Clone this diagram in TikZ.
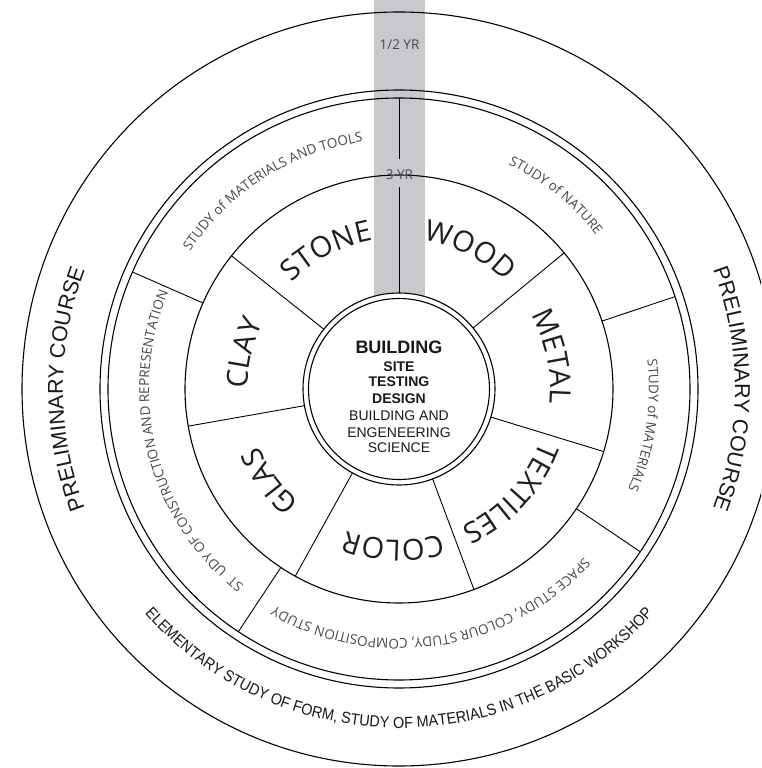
\documentclass[tikz,border=0pt]{standalone}
\usepackage{fontspec}
\setmainfont{Liberation Sans}
\newfontfamily\osans{Open Sans}
\newfontfamily\nsans[FakeStretch=0.9]{Liberation Sans}
\usetikzlibrary{decorations.text}
\definecolor{band}{RGB}{200,201,204}
\definecolor{studycol}{RGB}{72,72,72}
\definecolor{wscol}{RGB}{30,30,30}
\definecolor{ctrcol}{RGB}{25,25,25}
\tikzset{
  ring/.style={line width=1.1pt},
  spoke/.style={line width=0.9pt},
  ctext/.style={anchor=base, inner sep=0pt, text=ctrcol},
  yrtext/.style={anchor=base, inner sep=0pt, text=studycol, font=\osans\fontsize{13.5}{16}\selectfont},
}
% clockwise arc text (tops outward): centre angle, baseline radius, half span, format, text
\newcommand\cwtext[5]{\path[decorate,decoration={text along path,text align=center,text={|#4|#5}}] ({#1+#3}:#2pt) arc[start angle={#1+#3}, end angle={#1-#3}, radius=#2pt];}
% counter-clockwise arc text (tops inward)
\newcommand\ccwtext[5]{\path[decorate,decoration={text along path,text align=center,text={|#4|#5}}] ({#1-#3}:#2pt) arc[start angle={#1-#3}, end angle={#1+#3}, radius=#2pt];}
\newcommand\wsf{\color{wscol}\osans\fontsize{29}{31}\selectfont}
\newcommand\stf{\color{studycol}\osans\fontsize{13.5}{16}\selectfont}
\newcommand\prf{\color{ctrcol}\fontsize{21.5}{24}\selectfont}
\newcommand\elf{\color{ctrcol}\nsans\fontsize{16}{18}\selectfont}
\begin{document}
\begin{tikzpicture}[x=1pt,y=1pt]
\useasboundingbox (-399,-379) rectangle (362,389);
\clip (-399,-379) rectangle (362,389);
\fill[white] (-399,-379) rectangle (362,389);
% grey band
\fill[band] (-25,0) rectangle (26,389);
% rings
\draw[ring] (0,0) circle[radius=377pt];
\draw[ring] (0,0) circle[radius=299pt];
\draw[ring] (0,0) circle[radius=291pt];
\draw[ring] (0,0) circle[radius=214pt];
\draw[ring, fill=white] (0,0) circle[radius=96pt];
\draw[ring] (0,0) circle[radius=90.5pt];
% vertical divider
\draw[spoke] (0,291) -- (0,230);
\draw[spoke] (0,202) -- (0,96);
% study ring dividers
\foreach \a in {156.3,18.5,-34,236.5}
  \draw[spoke] (\a:214pt) -- (\a:291pt);
% workshop dividers
\foreach \a in {39.5,-17,-69.5,241,190,141.5}
  \draw[spoke] (\a:96pt) -- (\a:214pt);
% workshop labels
\cwtext{117.5}{151}{30}{\wsf}{STONE}
\cwtext{63}{151}{30}{\wsf}{WOOD}
\cwtext{12}{151}{30}{\wsf}{METAL}
\cwtext{-43}{151}{30}{\wsf}{TEXTILES}
\cwtext{-92}{151}{30}{\wsf}{COLOR}
\cwtext{215.5}{151}{30}{\wsf}{GLAS}
\cwtext{167}{151}{30}{\wsf}{CLAY}
% study labels
\cwtext{122.5}{250}{40}{\stf}{STUDY of MATERIALS AND TOOLS}
\cwtext{51}{250}{30}{\stf}{STUDY of NATURE}
\cwtext{-8.5}{250}{30}{\stf}{STUDY of MATERIALS}
\cwtext{-81}{250}{50}{\stf}{SPACE STUDY, COLOUR STUDY, COMPOSITION STUDY}
\cwtext{194.5}{250}{50}{\stf}{ST{\ } UDY OF CONSTRUCTION AND REPRESENTATION}
% outer band
\cwtext{180}{336}{30}{\prf}{PRELIMINARY COURSE}
\cwtext{0}{336}{30}{\prf}{PRELIMINARY COURSE}
\ccwtext{270}{339}{60}{\elf}{ELEMENTARY STUDY OF FORM, STUDY OF MATERIALS IN THE BASIC WORKSHOP}
% years
\node[yrtext] (half) at (0.5,339) {1/2 YR};
\node[yrtext] (three) at (0.5,209) {3 YR};
% centre
\node[ctext, font=\bfseries\fontsize{18}{20}\selectfont] (c1) at (0,35) {BUILDING};
\node[ctext, font=\bfseries\fontsize{14}{16}\selectfont] (c2) at (0,17) {SITE};
\node[ctext, font=\bfseries\fontsize{14}{16}\selectfont] (c3) at (0,2) {TESTING};
\node[ctext, font=\bfseries\fontsize{14}{16}\selectfont] (c4) at (0,-14) {DESIGN};
\node[ctext, font=\fontsize{14}{16}\selectfont] (c5) at (0,-31) {BUILDING AND};
\node[ctext, font=\fontsize{14}{16}\selectfont] (c6) at (0,-48) {ENGENEERING};
\node[ctext, font=\fontsize{14}{16}\selectfont] (c7) at (0,-63) {SCIENCE};
\end{tikzpicture}
\end{document}
